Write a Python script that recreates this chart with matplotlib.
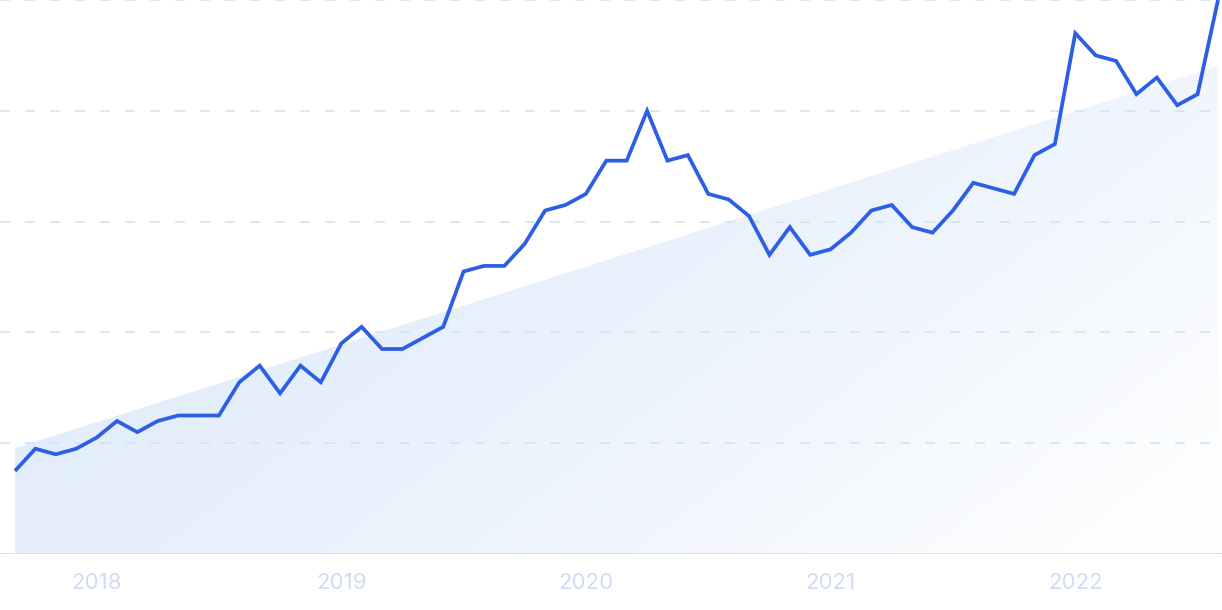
import numpy as np
import matplotlib
matplotlib.use("Agg")
import matplotlib.pyplot as plt
from matplotlib.patches import Polygon
from matplotlib.colors import LinearSegmentedColormap

# ---- data ----
months = list(range(60))  # monthly points, Sep 2017 .. Aug 2022
values = [15, 19, 18, 19, 21, 24, 22, 24, 25, 25,
          25, 31, 34, 29, 34, 31, 38, 41, 37, 37,
          39, 41, 51, 52, 52, 56, 62, 63, 65, 71,
          71, 80, 71, 72, 65, 64, 61, 54, 59, 54,
          55, 58, 62, 63, 59, 58, 62, 67, 66, 65,
          72, 74, 94, 90, 89, 83, 86, 81, 83, 100]
trend_start = 19.1
trend_end = 88.1
tick_positions = [4, 16, 28, 40, 52]
tick_labels = ["2018", "2019", "2020", "2021", "2022"]
grid_levels = [20, 40, 60, 80, 100]

W, H = 1222, 610
fig = plt.figure(figsize=(W / 100, H / 100), dpi=100)
base_px = 554
ax = fig.add_axes([0, (H - base_px) / H, 1, base_px / H])
step = 1203 / 59
ax.set_xlim(-15 / step, (W - 15) / step)
ax.set_ylim(0, 100)
ax.axis("off")

# gradient trend area
x0, x1 = months[0], months[-1]
poly = Polygon([(x0, 0), (x0, trend_start), (x1, trend_end), (x1, 0)],
               closed=True, facecolor="none", edgecolor="none")
ax.add_patch(poly)
cmap = LinearSegmentedColormap.from_list("g", ["#dbe9fa", "#e9f1fc", "#fcfdff"])
nx, ny = 300, 200
gx = np.linspace(0, 1, nx)
gy = np.linspace(0, 1, ny)  # 0 bottom, 1 top
GX, GY = np.meshgrid(gx, gy)
G = np.clip(0.75 * GX + 0.45 * (1 - GY) - 0.1, 0, 1)
im = ax.imshow(G, extent=(x0, x1, 0, 100), origin="lower", cmap=cmap,
               aspect="auto", zorder=1, vmin=0, vmax=1, interpolation="bilinear")
im.set_clip_path(poly)

# grid lines
for lvl in grid_levels:
    ax.axhline(lvl, color="#cde6f7", lw=1.2, dashes=(6, 9), zorder=2, clip_on=False)
ax.axhline(0, color="#c5e3f8", lw=1.3, zorder=2)

# main line
ax.plot(months, values, color="#2d5fe6", lw=2.7, zorder=3,
        solid_joinstyle="miter", solid_capstyle="butt", clip_on=False)

# x labels
for pos, lab in zip(tick_positions, tick_labels):
    ax.text(pos, -6.3, lab, ha="center", va="baseline", fontsize=16,
            color="#d1dbf5", family="Inter")

fig.savefig("out.png", dpi=100, facecolor="white")
